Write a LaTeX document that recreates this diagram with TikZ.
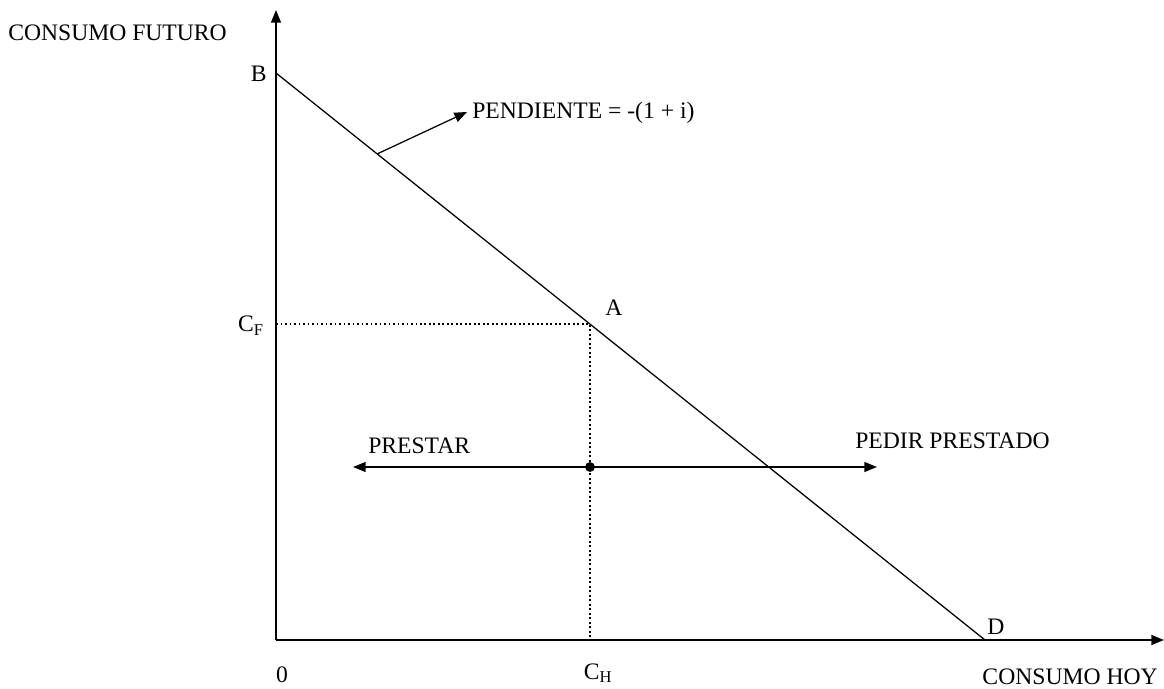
\documentclass[tikz,border=0pt]{standalone}
\usepackage{fontspec}
\setmainfont{Liberation Serif}
\usetikzlibrary{arrows.meta}

\begin{document}
\begin{tikzpicture}[x=0.025cm,y=-0.025cm,>={Triangle[length=9pt,width=7pt]},
  lbl/.style={font=\fontsize{16.8}{19}\selectfont,inner sep=0pt}]
  \useasboundingbox (0,0) rectangle (1164,689);
  % ejes
  \coordinate (O) at (276,640);
  \coordinate (ytop) at (276,10);
  \coordinate (xend) at (1164,640);
  \draw[->,line width=1.3pt] (O) -- (ytop);
  \draw[->,line width=1.3pt] (O) -- (xend);
  % recta presupuestaria
  \coordinate (B) at (276,73);
  \coordinate (D) at (985,640);
  \coordinate (A) at (590,324);
  \coordinate (CF) at (276,324);
  \coordinate (CH) at (590,640);
  \draw[line width=0.9pt] (B) -- (D);
  \draw[dotted,line width=1.2pt] (CF) -- (A) -- (CH);
  % pendiente
  \coordinate (P) at (377,154);
  \coordinate (Q) at (467,112);
  \draw[->,line width=0.9pt] (P) -- (Q);
  % prestar / pedir prestado
  \coordinate (L) at (353,467);
  \coordinate (R) at (877,467);
  \node[circle,fill,inner sep=0pt,minimum size=7pt] (E) at (590,467) {};
  \draw[<->,line width=1.2pt] (L) -- (R);
  % textos
  \node[lbl,anchor=west] (yl) at (8,33) {CONSUMO FUTURO};
  \node[lbl,anchor=east] (bl) at (267,74) {B};
  \node[lbl] (al) at (614,308) {A};
  \node[lbl] (dl) at (996,627) {D};
  \node[lbl,anchor=east] (cfl) at (264,326) {C\textsubscript{F}};
  \node[lbl] (cero) at (282,675) {0};
  \node[lbl] (chl) at (598,673) {C\textsubscript{H}};
  \node[lbl,anchor=east] (xl) at (1158,677) {CONSUMO HOY};
  \node[lbl,anchor=west] (pl) at (472,113) {PENDIENTE = -(1 + i)};
  \node[lbl,anchor=west] (prl) at (368,446) {PRESTAR};
  \node[lbl,anchor=west] (ppl) at (855,441) {PEDIR PRESTADO};
\end{tikzpicture}
\end{document}
